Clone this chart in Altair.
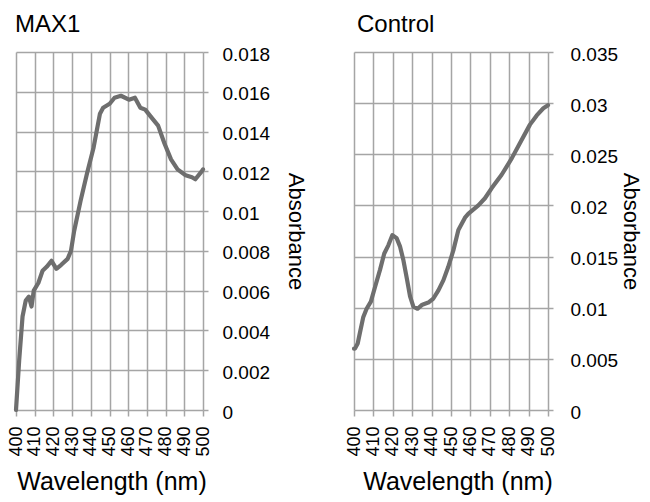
import altair as alt
import pandas as pd

# ---- data ----
max1_wavelength = [400, 401.7, 403.5, 405.2, 406.9, 408.3, 409.5, 412.0, 414.2, 416.4,
                   419.0, 421.6, 424.2, 427.6, 429.4, 431.1, 434.5, 438.0, 441.5, 444.9,
                   446.6, 450.1, 452.7, 456.1, 460.4, 463.6, 466.5, 469.1, 472.5, 476.0,
                   479.4, 482.9, 486.4, 490.7, 494.1, 495.9, 499.3, 500]
max1_absorbance = [0.0, 0.0025, 0.0047, 0.0055, 0.0057, 0.0052, 0.0060, 0.0064, 0.0070, 0.0072,
                   0.0075, 0.0071, 0.0073, 0.0076, 0.0080, 0.0090, 0.0105, 0.0119, 0.0132, 0.0149,
                   0.0152, 0.0154, 0.0157, 0.0158, 0.0156, 0.0157, 0.0152, 0.0151, 0.0147, 0.0143,
                   0.0134, 0.0126, 0.0121, 0.0118, 0.0117, 0.0116, 0.0120, 0.0121]

ctrl_wavelength = [400, 400.5, 401.9, 403.0, 404.8, 406.5, 408.7, 410.8, 413.4, 415.6,
                   417.7, 419.8, 422.0, 423.7, 425.4, 427.2, 428.9, 430.6, 432.8, 435.2,
                   438.3, 440.9, 443.5, 446.1, 448.6, 451.2, 453.8, 457.2, 459.0, 464.1,
                   467.5, 471.0, 476.1, 481.3, 486.4, 490.7, 494.2, 497.6, 500]
ctrl_absorbance = [0.0060, 0.0060, 0.0065, 0.0075, 0.0091, 0.0099, 0.0106, 0.0120, 0.0137, 0.0153,
                   0.0161, 0.0171, 0.0168, 0.0160, 0.0147, 0.0129, 0.0111, 0.0101, 0.0099, 0.0103,
                   0.0105, 0.0109, 0.0117, 0.0127, 0.0140, 0.0156, 0.0176, 0.0188, 0.0192, 0.0200,
                   0.0207, 0.0217, 0.0230, 0.0246, 0.0264, 0.0279, 0.0288, 0.0295, 0.0298]

x_ticks = [400, 410, 420, 430, 440, 450, 460, 470, 480, 490, 500]
max1_y_ticks = [0, 0.002, 0.004, 0.006, 0.008, 0.01, 0.012, 0.014, 0.016, 0.018]
ctrl_y_ticks = [0, 0.005, 0.01, 0.015, 0.02, 0.025, 0.03, 0.035]

FONT = "Liberation Sans"
GRID = "#a5a5a5"
LINE = "#6e6e6e"


def panel(wl, ab, title, ymax, yticks, width, title_dx, xtitle_x, ytitle_x, ylabel_pad):
    df = pd.DataFrame({"wavelength": wl, "absorbance": ab})
    return (
        alt.Chart(df)
        .mark_line(color=LINE, strokeWidth=4.2, strokeCap="round", strokeJoin="round")
        .encode(
            x=alt.X(
                "wavelength:Q",
                scale=alt.Scale(domain=[400, 500], nice=False, zero=False),
                axis=alt.Axis(
                    values=x_ticks, labelAngle=270, labelFontSize=18, labelPadding=10,
                    labelColor="#000000", tickSize=6, tickColor=GRID, tickWidth=1.5,
                    grid=True, gridColor=GRID, gridWidth=1.5, domain=False,
                    title="Wavelength (nm)", titleFontSize=25, titleFontWeight="normal",
                    titleColor="#000000", titleX=xtitle_x, titleY=79,
                    titleAlign="center", titleBaseline="alphabetic",
                ),
            ),
            y=alt.Y(
                "absorbance:Q",
                scale=alt.Scale(domain=[0, ymax], nice=False, zero=True),
                axis=alt.Axis(
                    orient="right", values=yticks, format="~g", labelFontSize=19,
                    labelPadding=ylabel_pad, labelColor="#000000", labelOffset=2,
                    tickSize=5, tickColor=GRID, tickWidth=1.5,
                    grid=True, gridColor=GRID, gridWidth=1.5, domain=False,
                    title="Absorbance", titleFontSize=22, titleFontWeight="normal",
                    titleColor="#000000", titleAngle=90, titleX=ytitle_x, titleY=179,
                    titleAlign="center", titleBaseline="alphabetic",
                ),
            ),
        )
        .properties(
            width=width, height=358,
            title=alt.TitleParams(
                text=title, anchor="start", frame="group", dx=title_dx, dy=11, offset=0,
                baseline="alphabetic", fontSize=24, fontWeight="normal", color="#000000",
                font=FONT,
            ),
        )
    )


left = panel(max1_wavelength, max1_absorbance, "MAX1", 0.018, max1_y_ticks,
             187, -1, 95.5, 85, 14)
right = panel(ctrl_wavelength, ctrl_absorbance, "Control", 0.035, ctrl_y_ticks,
              194, 3, 103.5, 75, 17)

chart = (
    alt.hconcat(left, right, spacing=151, bounds="flush")
    .properties(
        autosize=alt.AutoSizeParams(type="none"),
        padding={"left": 8, "top": 44, "right": 626, "bottom": 442},
    )
    .configure(font=FONT)
    .configure_view(stroke=None)
)

chart.save("out.html", embed_options={"renderer": "svg", "actions": False})
